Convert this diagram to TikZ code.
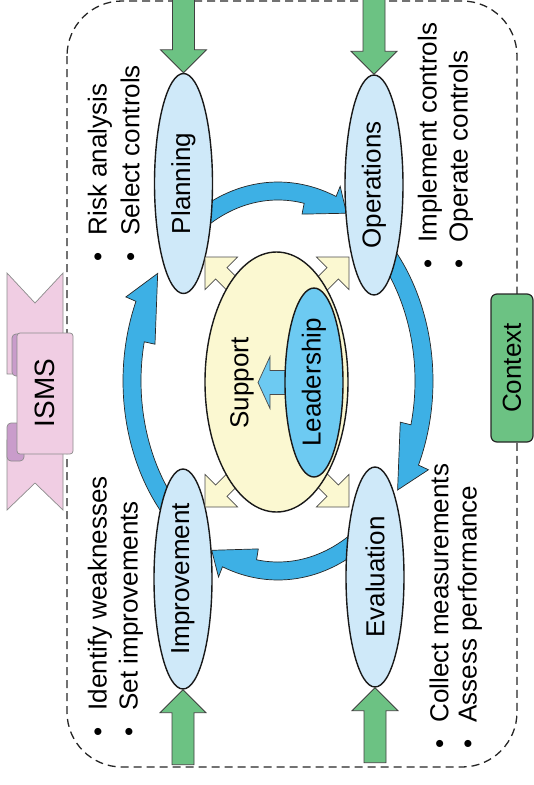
\documentclass[tikz,border=0pt]{standalone}
\usepackage{fontspec}
\setmainfont{Liberation Sans}
\usepackage{graphicx}
\usetikzlibrary{shapes.geometric}

\definecolor{stageblue}{HTML}{CFE9F9}
\definecolor{cycleblue}{HTML}{3DB0E5}
\definecolor{leadblue}{HTML}{6DCAF2}
\definecolor{supportyellow}{HTML}{FBF8D1}
\definecolor{inputgreen}{HTML}{6CC283}
\definecolor{ribbonpink}{HTML}{F0CDE3}
\definecolor{ribbonfold}{HTML}{C99CCB}

\begin{document}
\begin{tikzpicture}[x=1pt, y=-1pt, line width=1pt, font=\fontsize{26}{31}\selectfont,
  stage/.style={ellipse, draw=black!90, line width=1.4pt, fill=stageblue, minimum width=58pt, minimum height=220pt, inner sep=0pt},
  cyclearrow/.style={draw=black!85, line width=0.7pt, fill=cycleblue},
  inarrow/.style={draw=black!75, line width=0.8pt, fill=inputgreen},
  supparrow/.style={draw=black!70, line width=0.7pt, fill=supportyellow},
  bullettext/.style={rotate=90, anchor=west, inner sep=0pt},
  ribbon/.style={draw=black!45, line width=0.7pt, fill=ribbonpink},
  fold/.style={draw=black!45, line width=0.7pt, fill=ribbonfold}]
  \useasboundingbox (0,0) rectangle (534,785);

  % context boundary
  \draw[black!85, line width=1.3pt, dash pattern=on 8pt off 5pt, rounded corners=55pt] (67,1) rectangle (517,767);
  \node[draw=black!85, line width=1.2pt, fill=inputgreen, rounded corners=6pt, minimum width=42pt, minimum height=148pt, inner sep=0pt] (context) at (512,368) {\rotatebox{90}{Context}};

  % ISMS banner
  \draw[ribbon] (7,273) -- (35,303) -- (63,273) -- (63,374) -- (7,374) -- cycle;
  \draw[ribbon] (7,510) -- (35,483) -- (63,510) -- (63,440) -- (7,440) -- cycle;
  \draw[fold, rounded corners=4pt] (12,334) rectangle (26,376);
  \draw[fold, rounded corners=4pt] (7,423) rectangle (24,461);
  \draw[ribbon, rounded corners=3pt] (17,333) rectangle (73,454);
  \node[rotate=90, font=\fontsize{28}{33}\selectfont] (isms) at (45,393) {ISMS};

  % PDCA cycle
  \begin{scope}[shift={(278,381)}]
    \foreach \st/\ho/\hi/\tp in {-125/-68/-79/-62, -45/25/14/35, 52/111/99/117, 138/203.6/192.5/214.5}
      \draw[cyclearrow] (\st:155 and 199) arc[start angle=\st, end angle=\ho, x radius=155, y radius=199]
        -- (\ho:166 and 210) -- (\tp:146 and 190) -- (\hi:126 and 170) -- (\hi:137 and 181)
        arc[start angle=\hi, end angle=\st, x radius=137, y radius=181] -- cycle;
  \end{scope}

  \node[stage] (plan) at (183.5,183.5) {\rotatebox{90}{Planning}};
  \node[stage] (oper) at (374,185) {\rotatebox{90}{Operations}};
  \node[stage] (eval) at (375,577) {\rotatebox{90}{Evaluation}};
  \node[stage] (impr) at (183,579) {\rotatebox{90}{Improvement}};

  % inputs
  \draw[inarrow] (plan.north) -- ++(-23,-23) -- ++(12,0) -- ++(0,-55) -- ++(22,0) -- ++(0,55) -- ++(12,0) -- cycle;
  \draw[inarrow] (oper.north) -- ++(-23,-23) -- ++(12,0) -- ++(0,-55) -- ++(22,0) -- ++(0,55) -- ++(12,0) -- cycle;
  \draw[inarrow] (impr.south) -- ++(-23,23) -- ++(12,0) -- ++(0,52) -- ++(22,0) -- ++(0,-52) -- ++(12,0) -- cycle;
  \draw[inarrow] (eval.south) -- ++(-23,23) -- ++(12,0) -- ++(0,52) -- ++(22,0) -- ++(0,-52) -- ++(12,0) -- cycle;

  % support and leadership
  \foreach \tip/\ang in {{(205,257)}/135, {(349,257)}/45, {(205,507)}/225, {(349,507)}/-45}
    \draw[supparrow, shift={\tip}, rotate=\ang] (0,0) -- (-23,23) -- (-23,8) -- (-60,8) -- (-60,-8) -- (-23,-8) -- (-23,-23) -- cycle;
  \node[ellipse, draw=black!90, line width=1.4pt, fill=supportyellow, minimum width=143pt, minimum height=260pt] (support) at (276.5,382) {};
  \node[rotate=90] (supptext) at (242,383) {Support};
  \draw[draw=black!70, line width=0.7pt, fill=leadblue] (314,382.5) ++(-25,-12) -- ++(-19,0) -- ++(0,-14) -- ++(-12,26) -- ++(12,26) -- ++(0,-14) -- ++(19,0) -- cycle;
  \node[ellipse, draw=black!90, line width=1.4pt, fill=leadblue, minimum width=58pt, minimum height=189pt, inner sep=0pt] (lead) at (314,382.5) {\rotatebox{90}{Leadership}};

  % activities
  \node[bullettext] (risk) at (100,262) {\textbullet\hspace{0.65em}Risk analysis};
  \node[bullettext] (select) at (130,262) {\textbullet\hspace{0.65em}Select controls};
  \node[bullettext] (implement) at (430,269) {\textbullet\hspace{0.65em}Implement controls};
  \node[bullettext] (operate) at (461,269) {\textbullet\hspace{0.65em}Operate controls};
  \node[bullettext] (collect) at (439,749) {\textbullet\hspace{0.65em}Collect measurements};
  \node[bullettext] (assess) at (470,749) {\textbullet\hspace{0.65em}Assess performance};
  \node[bullettext] (identify) at (100,737) {\textbullet\hspace{0.65em}Identify weaknesses};
  \node[bullettext] (setimpr) at (131,737) {\textbullet\hspace{0.65em}Set improvements};
\end{tikzpicture}
\end{document}
